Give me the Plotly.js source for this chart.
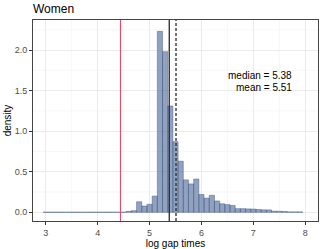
<!DOCTYPE html>
<html>
<head>
<meta charset="utf-8">
<script src="https://cdn.plot.ly/plotly-3.0.1.min.js"></script>
<style>html,body{margin:0;padding:0;background:#fff;}#chart{width:324px;height:249px;}</style>
</head>
<body>
<div id="chart"></div>
<script>
// bin centres (binwidth 0.1)
var binCenters = [3.0,3.1,3.2,3.3,3.4,3.5,3.6,3.7,3.8,3.9,4.0,4.1,4.2,4.3,4.4,4.5,
  4.6,4.7,4.8,4.9,5.0,5.1,5.2,5.3,5.4,5.5,5.6,5.7,5.8,5.9,6.0,6.1,6.2,6.3,6.4,6.5,
  6.6,6.7,6.8,6.9,7.0,7.1,7.2,7.3,7.4,7.5,7.6,7.7,7.8,7.9];
var density = [0.002,0.002,0.002,0.002,0.002,0.002,0.002,0.002,0.002,0.002,0.002,0.002,0.002,0.002,0.002,0.002,
  0.012,0.02,0.13,0.078,0.099,0.2,2.23,1.98,1.31,0.87,0.63,0.40,0.35,0.41,0.22,0.175,0.21,0.14,0.105,0.095,
  0.085,0.045,0.045,0.042,0.04,0.035,0.03,0.03,0.014,0.013,0.01,0.005,0.005,0.005];
var binWidth = 0.1;
var refValue = 4.44;
var medianValue = 5.38;
var meanValue = 5.51;
var xTicks = [3,4,5,6,7,8];
var yTicks = [0,0.5,1,1.5,2];
var yTickText = ["0.0","0.5","1.0","1.5","2.0"];
var xMinor = [3.5,4.5,5.5,6.5,7.5];
var yMinor = [0.25,0.75,1.25,1.75,2.25];

var font = "Liberation Sans, Arial, sans-serif";
var trace = {
  type: 'bar', x: binCenters, y: density, width: binWidth,
  marker: {color: 'rgba(72,98,150,0.6)', line: {color: 'rgba(62,84,130,0.75)', width: 0.6}},
  hoverinfo: 'skip'
};
var shapes = [];
xMinor.forEach(function(v){ shapes.push({type:'line', xref:'x', yref:'paper', x0:v, x1:v, y0:0, y1:1, line:{color:'#f2f2f2', width:0.6}, layer:'below'}); });
yMinor.forEach(function(v){ shapes.push({type:'line', xref:'paper', yref:'y', x0:0, x1:1, y0:v, y1:v, line:{color:'#f2f2f2', width:0.6}, layer:'below'}); });
shapes.push({type:'line', xref:'x', yref:'paper', x0:refValue, x1:refValue, y0:0, y1:1, line:{color:'#ea4866', width:1.1}});
shapes.push({type:'line', xref:'x', yref:'paper', x0:medianValue, x1:medianValue, y0:0, y1:1, line:{color:'#2a2a2a', width:1.3}});
shapes.push({type:'line', xref:'x', yref:'paper', x0:meanValue, x1:meanValue, y0:0, y1:1, line:{color:'#2a2a2a', width:1.3, dash:'3px,2px'}});

var layout = {
  width: 324, height: 249,
  margin: {l: 33, r: 6, t: 20, b: 28},
  paper_bgcolor: '#fff', plot_bgcolor: '#fff',
  showlegend: false, bargap: 0,
  font: {family: font, color: '#000'},
  title: {text: 'Women', x: 33/324, xref: 'container', xanchor: 'left', y: 1 - 9/249, yref: 'container', yanchor: 'middle', font: {size: 12, color: '#000', family: font}},
  xaxis: {
    range: [2.755, 8.245], tickvals: xTicks, ticks: 'outside', ticklen: 3, tickcolor: '#333', tickwidth: 1,
    tickfont: {size: 9, color: '#4d4d4d'}, showgrid: true, gridcolor: '#ebebeb', gridwidth: 1,
    zeroline: false, showline: true, linecolor: '#444', linewidth: 1, mirror: true,
    title: {text: 'log gap times', font: {size: 10, color: '#000'}, standoff: 0}
  },
  yaxis: {
    range: [-0.107, 2.37], tickvals: yTicks, ticktext: yTickText, ticks: 'outside', ticklen: 3, tickcolor: '#333', tickwidth: 1,
    tickfont: {size: 9, color: '#4d4d4d'}, showgrid: true, gridcolor: '#ebebeb', gridwidth: 1,
    zeroline: false, showline: true, linecolor: '#444', linewidth: 1, mirror: true,
    title: {text: 'density', font: {size: 10, color: '#000'}, standoff: 1}
  },
  shapes: shapes,
  annotations: [
    {xref:'x', yref:'y', x:7.78, y:1.68, xanchor:'right', yanchor:'middle', showarrow:false, text:'median = ' + medianValue.toFixed(2), font:{size:10, color:'#000'}},
    {xref:'x', yref:'y', x:7.78, y:1.54, xanchor:'right', yanchor:'middle', showarrow:false, text:'mean = ' + meanValue.toFixed(2), font:{size:10, color:'#000'}}
  ]
};
Plotly.newPlot('chart', [trace], layout, {staticPlot: true, displayModeBar: false});
</script>
</body>
</html>
